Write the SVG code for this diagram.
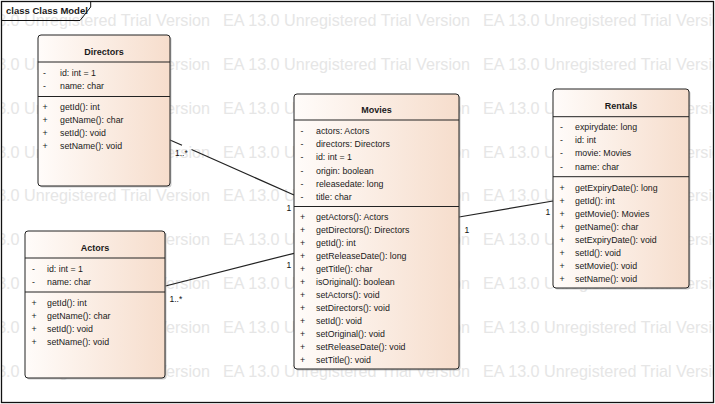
<svg xmlns="http://www.w3.org/2000/svg" width="715" height="404" viewBox="0 0 715 404">
<style>
text{font-family:"Liberation Sans",Arial,sans-serif;fill:#1a1a1a}
.wm{font-size:17px;fill:#e6e6e6}
.t{font-size:9px;font-weight:bold}
.m{font-size:8.8px}
.lbl{font-size:8.5px;fill:#111}
.box{fill:url(#g);stroke:#222;stroke-width:1}
.sh{fill:#9a9a9a;opacity:0.5}
.sep{stroke:#222;stroke-width:1}
.conn{stroke:#222;stroke-width:1.2;fill:none}
</style>
<defs>
<linearGradient id="g" x1="0" y1="0" x2="1" y2="0">
<stop offset="0" stop-color="#fffcfa"/>
<stop offset="1" stop-color="#f6ddcc"/>
</linearGradient>
<clipPath id="frameclip"><rect x="2" y="2" width="711" height="400"/></clipPath>
</defs>
<rect x="0" y="0" width="715" height="404" fill="#fff"/>
<g id="watermark" clip-path="url(#frameclip)">
<g class="wm">
<text x="-37" y="26" textLength="247" lengthAdjust="spacingAndGlyphs" class="wm">EA 13.0 Unregistered Trial Version</text>
<text x="223" y="26" textLength="247" lengthAdjust="spacingAndGlyphs" class="wm">EA 13.0 Unregistered Trial Version</text>
<text x="483" y="26" textLength="247" lengthAdjust="spacingAndGlyphs" class="wm">EA 13.0 Unregistered Trial Version</text>
<text x="-37" y="69.8" textLength="247" lengthAdjust="spacingAndGlyphs" class="wm">EA 13.0 Unregistered Trial Version</text>
<text x="223" y="69.8" textLength="247" lengthAdjust="spacingAndGlyphs" class="wm">EA 13.0 Unregistered Trial Version</text>
<text x="483" y="69.8" textLength="247" lengthAdjust="spacingAndGlyphs" class="wm">EA 13.0 Unregistered Trial Version</text>
<text x="-37" y="113.7" textLength="247" lengthAdjust="spacingAndGlyphs" class="wm">EA 13.0 Unregistered Trial Version</text>
<text x="223" y="113.7" textLength="247" lengthAdjust="spacingAndGlyphs" class="wm">EA 13.0 Unregistered Trial Version</text>
<text x="483" y="113.7" textLength="247" lengthAdjust="spacingAndGlyphs" class="wm">EA 13.0 Unregistered Trial Version</text>
<text x="-37" y="157.5" textLength="247" lengthAdjust="spacingAndGlyphs" class="wm">EA 13.0 Unregistered Trial Version</text>
<text x="223" y="157.5" textLength="247" lengthAdjust="spacingAndGlyphs" class="wm">EA 13.0 Unregistered Trial Version</text>
<text x="483" y="157.5" textLength="247" lengthAdjust="spacingAndGlyphs" class="wm">EA 13.0 Unregistered Trial Version</text>
<text x="-37" y="201.3" textLength="247" lengthAdjust="spacingAndGlyphs" class="wm">EA 13.0 Unregistered Trial Version</text>
<text x="223" y="201.3" textLength="247" lengthAdjust="spacingAndGlyphs" class="wm">EA 13.0 Unregistered Trial Version</text>
<text x="483" y="201.3" textLength="247" lengthAdjust="spacingAndGlyphs" class="wm">EA 13.0 Unregistered Trial Version</text>
<text x="-37" y="245.1" textLength="247" lengthAdjust="spacingAndGlyphs" class="wm">EA 13.0 Unregistered Trial Version</text>
<text x="223" y="245.1" textLength="247" lengthAdjust="spacingAndGlyphs" class="wm">EA 13.0 Unregistered Trial Version</text>
<text x="483" y="245.1" textLength="247" lengthAdjust="spacingAndGlyphs" class="wm">EA 13.0 Unregistered Trial Version</text>
<text x="-37" y="289" textLength="247" lengthAdjust="spacingAndGlyphs" class="wm">EA 13.0 Unregistered Trial Version</text>
<text x="223" y="289" textLength="247" lengthAdjust="spacingAndGlyphs" class="wm">EA 13.0 Unregistered Trial Version</text>
<text x="483" y="289" textLength="247" lengthAdjust="spacingAndGlyphs" class="wm">EA 13.0 Unregistered Trial Version</text>
<text x="-37" y="332.8" textLength="247" lengthAdjust="spacingAndGlyphs" class="wm">EA 13.0 Unregistered Trial Version</text>
<text x="223" y="332.8" textLength="247" lengthAdjust="spacingAndGlyphs" class="wm">EA 13.0 Unregistered Trial Version</text>
<text x="483" y="332.8" textLength="247" lengthAdjust="spacingAndGlyphs" class="wm">EA 13.0 Unregistered Trial Version</text>
<text x="-37" y="376.6" textLength="247" lengthAdjust="spacingAndGlyphs" class="wm">EA 13.0 Unregistered Trial Version</text>
<text x="223" y="376.6" textLength="247" lengthAdjust="spacingAndGlyphs" class="wm">EA 13.0 Unregistered Trial Version</text>
<text x="483" y="376.6" textLength="247" lengthAdjust="spacingAndGlyphs" class="wm">EA 13.0 Unregistered Trial Version</text>
</g>
</g>
<g id="frame">
<rect x="1.5" y="1.5" width="712" height="401" fill="none" stroke="#111" stroke-width="1.3"/>
<path d="M1.5,20.5 H80 L90.7,7 V1.5" fill="none" stroke="#111" stroke-width="1"/>
<text x="6" y="14" style="font-size:9.5px;font-weight:bold">class Class Model</text>
</g>
<g id="connectors">
<path class="conn" d="M170,140 L182,145.3 M191.5,149.5 L294,195"/>
<path class="conn" d="M165.5,286 L294,253.3"/>
<path class="conn" d="M459,217 L553,201"/>
<text class="lbl" x="175" y="155.5">1..*</text>
<text class="lbl" x="286.5" y="210.5">1</text>
<text class="lbl" x="169.5" y="301.5">1..*</text>
<text class="lbl" x="286.5" y="268">1</text>
<text class="lbl" x="464.5" y="233">1</text>
<text class="lbl" x="545.5" y="215">1</text>
</g>
<g id="Directors">
<rect class="sh" x="39.5" y="36.5" width="132" height="151" rx="3"/>
<rect class="box" x="38" y="35" width="132" height="151" rx="3"/>
<text class="t" x="104" y="54.5" text-anchor="middle">Directors</text>
<line class="sep" x1="38" y1="62" x2="170" y2="62"/>
<text class="m" x="43" y="75.5">-</text><text class="m" x="60" y="75.5">id: int = 1</text>
<text class="m" x="43" y="89">-</text><text class="m" x="60" y="89">name: char</text>
<line class="sep" x1="38" y1="96.5" x2="170" y2="96.5"/>
<text class="m" x="42.5" y="110">+</text><text class="m" x="60" y="110">getId(): int</text>
<text class="m" x="42.5" y="123">+</text><text class="m" x="60" y="123">getName(): char</text>
<text class="m" x="42.5" y="136">+</text><text class="m" x="60" y="136">setId(): void</text>
<text class="m" x="42.5" y="149">+</text><text class="m" x="60" y="149">setName(): void</text>
</g>
<g id="Actors">
<rect class="sh" x="26.5" y="232.5" width="140" height="147" rx="3"/>
<rect class="box" x="25" y="231" width="140" height="147" rx="3"/>
<text class="t" x="95" y="250.5" text-anchor="middle">Actors</text>
<line class="sep" x1="25" y1="258" x2="165" y2="258"/>
<text class="m" x="32" y="272.3">-</text><text class="m" x="47" y="272.3">id: int = 1</text>
<text class="m" x="32" y="285.3">-</text><text class="m" x="47" y="285.3">name: char</text>
<line class="sep" x1="25" y1="292" x2="165" y2="292"/>
<text class="m" x="31.5" y="306">+</text><text class="m" x="47" y="306">getId(): int</text>
<text class="m" x="31.5" y="319">+</text><text class="m" x="47" y="319">getName(): char</text>
<text class="m" x="31.5" y="332">+</text><text class="m" x="47" y="332">setId(): void</text>
<text class="m" x="31.5" y="345">+</text><text class="m" x="47" y="345">setName(): void</text>
</g>
<g id="Movies">
<rect class="sh" x="295.5" y="95.5" width="165" height="275" rx="3"/>
<rect class="box" x="294" y="94" width="165" height="275" rx="3"/>
<text class="t" x="376.5" y="112.5" text-anchor="middle">Movies</text>
<line class="sep" x1="294" y1="120" x2="459" y2="120"/>
<text class="m" x="300.5" y="134">-</text><text class="m" x="316" y="134">actors: Actors</text>
<text class="m" x="300.5" y="147.2">-</text><text class="m" x="316" y="147.2">directors: Directors</text>
<text class="m" x="300.5" y="160.4">-</text><text class="m" x="316" y="160.4">id: int = 1</text>
<text class="m" x="300.5" y="173.6">-</text><text class="m" x="316" y="173.6">origin: boolean</text>
<text class="m" x="300.5" y="186.8">-</text><text class="m" x="316" y="186.8">releasedate: long</text>
<text class="m" x="300.5" y="200">-</text><text class="m" x="316" y="200">title: char</text>
<line class="sep" x1="294" y1="206.5" x2="459" y2="206.5"/>
<text class="m" x="300" y="220.3">+</text><text class="m" x="316" y="220.3">getActors(): Actors</text>
<text class="m" x="300" y="233.3">+</text><text class="m" x="316" y="233.3">getDirectors(): Directors</text>
<text class="m" x="300" y="246.3">+</text><text class="m" x="316" y="246.3">getId(): int</text>
<text class="m" x="300" y="259.3">+</text><text class="m" x="316" y="259.3">getReleaseDate(): long</text>
<text class="m" x="300" y="272.3">+</text><text class="m" x="316" y="272.3">getTitle(): char</text>
<text class="m" x="300" y="285.3">+</text><text class="m" x="316" y="285.3">isOriginal(): boolean</text>
<text class="m" x="300" y="298.3">+</text><text class="m" x="316" y="298.3">setActors(): void</text>
<text class="m" x="300" y="311.3">+</text><text class="m" x="316" y="311.3">setDirectors(): void</text>
<text class="m" x="300" y="324.3">+</text><text class="m" x="316" y="324.3">setId(): void</text>
<text class="m" x="300" y="337.3">+</text><text class="m" x="316" y="337.3">setOriginal(): void</text>
<text class="m" x="300" y="350.3">+</text><text class="m" x="316" y="350.3">setReleaseDate(): void</text>
<text class="m" x="300" y="363.3">+</text><text class="m" x="316" y="363.3">setTitle(): void</text>
</g>
<g id="Rentals">
<rect class="sh" x="554.5" y="90.5" width="136" height="199" rx="3"/>
<rect class="box" x="553" y="89" width="136" height="199" rx="3"/>
<text class="t" x="621" y="108.5" text-anchor="middle">Rentals</text>
<line class="sep" x1="553" y1="116.7" x2="689" y2="116.7"/>
<text class="m" x="560" y="130">-</text><text class="m" x="575" y="130">expirydate: long</text>
<text class="m" x="560" y="143.2">-</text><text class="m" x="575" y="143.2">id: int</text>
<text class="m" x="560" y="156.4">-</text><text class="m" x="575" y="156.4">movie: Movies</text>
<text class="m" x="560" y="169.5">-</text><text class="m" x="575" y="169.5">name: char</text>
<line class="sep" x1="553" y1="176.7" x2="689" y2="176.7"/>
<text class="m" x="559.5" y="190.6">+</text><text class="m" x="575" y="190.6">getExpiryDate(): long</text>
<text class="m" x="559.5" y="203.6">+</text><text class="m" x="575" y="203.6">getId(): int</text>
<text class="m" x="559.5" y="216.6">+</text><text class="m" x="575" y="216.6">getMovie(): Movies</text>
<text class="m" x="559.5" y="229.6">+</text><text class="m" x="575" y="229.6">getName(): char</text>
<text class="m" x="559.5" y="242.6">+</text><text class="m" x="575" y="242.6">setExpiryDate(): void</text>
<text class="m" x="559.5" y="255.6">+</text><text class="m" x="575" y="255.6">setId(): void</text>
<text class="m" x="559.5" y="268.6">+</text><text class="m" x="575" y="268.6">setMovie(): void</text>
<text class="m" x="559.5" y="281.6">+</text><text class="m" x="575" y="281.6">setName(): void</text>
</g>
</svg>
